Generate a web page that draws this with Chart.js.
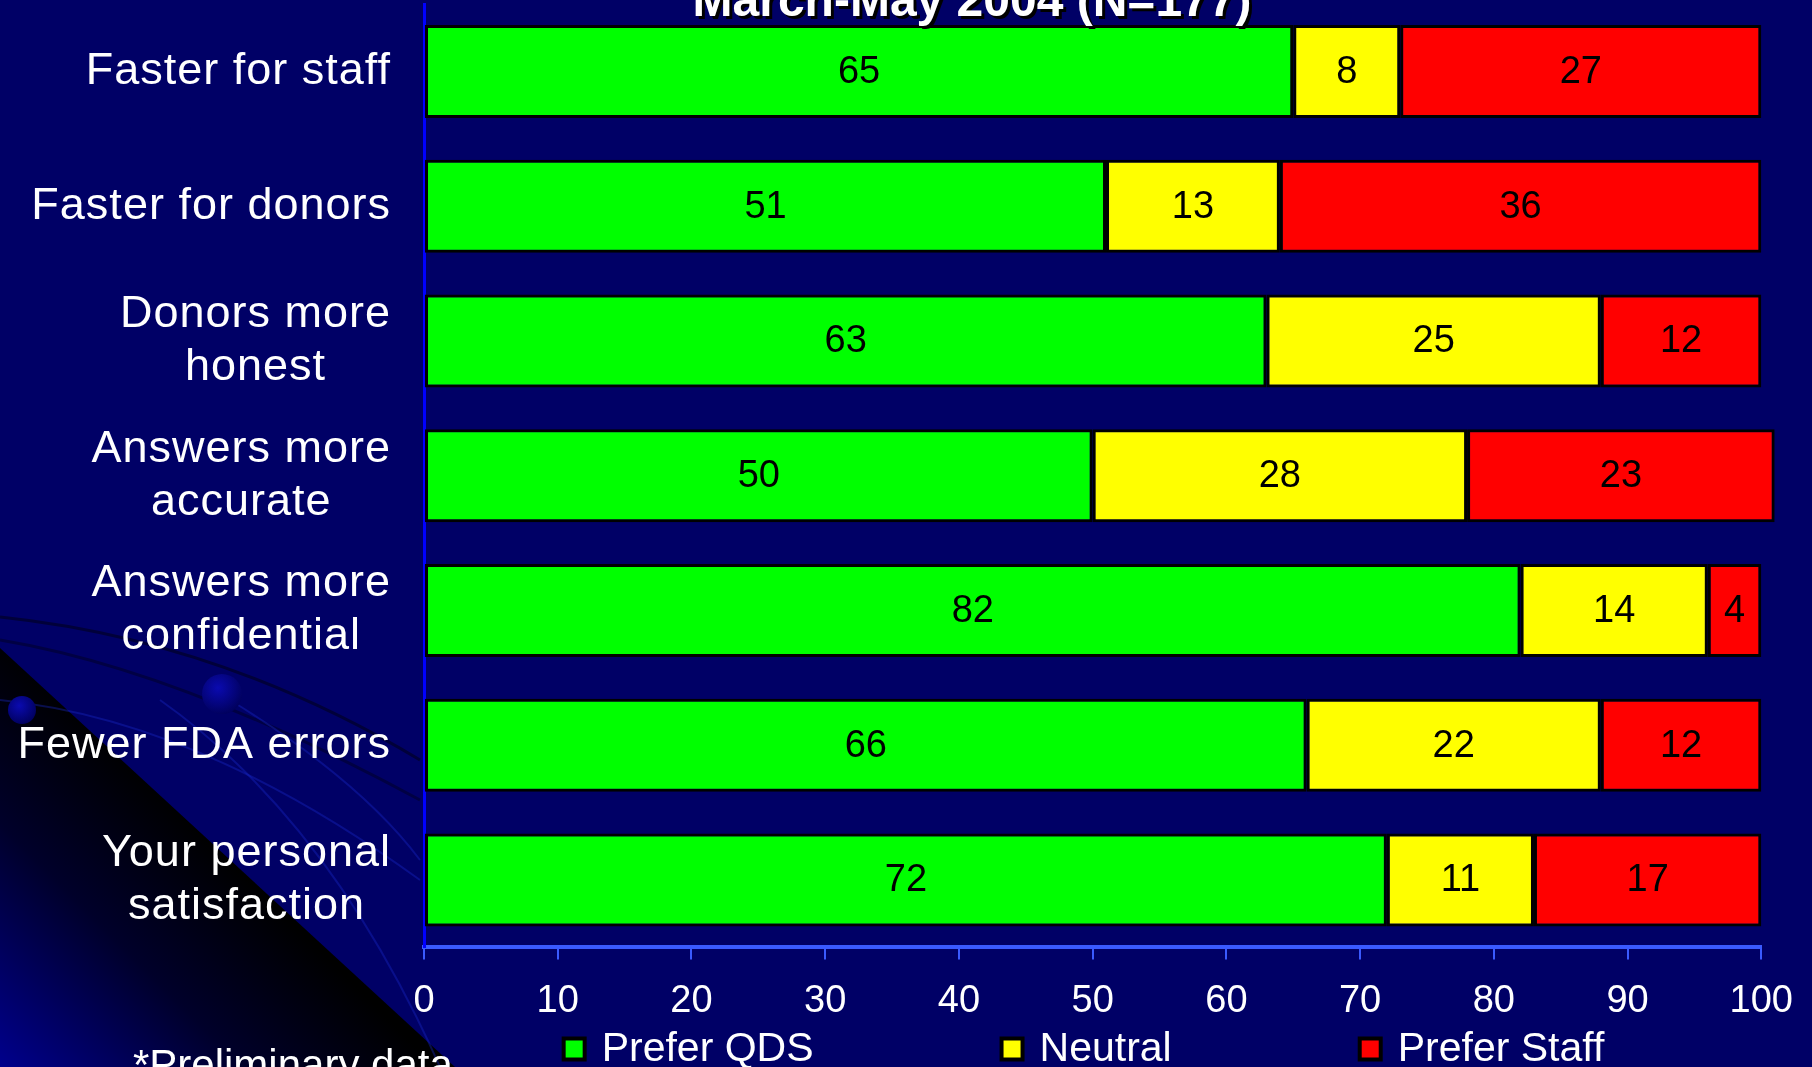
<!DOCTYPE html>
<html>
<head>
<meta charset="utf-8">
<title>QDS vs Staff preference</title>
<script src="https://cdn.jsdelivr.net/npm/chart.js@4.4.1/dist/chart.umd.min.js"></script>
<style>
    html, body { margin: 0; padding: 0; background: #000066; }
    #slide { position: relative; width: 1812px; height: 1067px; overflow: hidden; background: #000066; }
    #shade {
        position: absolute; left: 0; top: 648px; width: 455px; height: 419px;
        clip-path: polygon(0 0, 100% 100%, 0 100%);
        background: linear-gradient(45deg, #00008c 0%, #00002a 28%, #000000 50%);
    }
    #deco { position: absolute; left: 0; top: 0; }
    #chartWrap { position: absolute; left: 0; top: 0; width: 1812px; height: 1067px; }
</style>
</head>
<body>
<div id="slide">
    <div id="shade"></div>
    <svg id="deco" width="1812" height="1067">
        <defs>
            <radialGradient id="ball" cx="0.4" cy="0.35" r="0.7">
                <stop offset="0" stop-color="#0a0ab0"/>
                <stop offset="1" stop-color="#00005a"/>
            </radialGradient>
        </defs>
        <path d="M0 617 Q 220 640 420 760" stroke="#00003a" stroke-width="3" fill="none"/>
        <path d="M0 640 Q 180 670 420 800" stroke="#000044" stroke-width="3" fill="none"/>
        <path d="M0 700 Q 200 720 420 880" stroke="#1a2ad0" stroke-opacity="0.35" stroke-width="2" fill="none"/>
        <path d="M160 700 Q 330 820 440 1067" stroke="#1a2ad0" stroke-opacity="0.35" stroke-width="2" fill="none"/>
        <path d="M230 700 Q 360 780 420 860" stroke="#1a2ad0" stroke-opacity="0.35" stroke-width="2" fill="none"/>
        <circle cx="22" cy="710" r="14" fill="url(#ball)"/>
        <circle cx="222" cy="694" r="20" fill="url(#ball)"/>
    </svg>
    <div id="chartWrap"><canvas id="chart"></canvas></div>
</div>
<script>
const categories = [
    ['Faster for staff'],
    ['Faster for donors'],
    ['Donors more', 'honest'],
    ['Answers more', 'accurate'],
    ['Answers more', 'confidential'],
    ['Fewer FDA errors'],
    ['Your personal', 'satisfaction']
];
const preferQDS = [65, 51, 63, 50, 82, 66, 72];
const neutral = [8, 13, 25, 28, 14, 22, 11];
const preferStaff = [27, 36, 12, 23, 4, 12, 17];
const seriesNames = ['Prefer QDS', 'Neutral', 'Prefer Staff'];
const seriesColors = ['#00ff00', '#ffff00', '#ff0000'];
const xMin = 0;
const xMax = 100;
const xStep = 10;
const titleText = 'March-May 2004 (N=177)';
const footnote = '*Preliminary data';

const FONT = '"Liberation Sans", Arial, sans-serif';

// category labels: lines centred on each other, block right-aligned to the axis
const categoryLabels = {
    id: 'categoryLabels',
    afterDraw(chart) {
        const ctx = chart.ctx;
        const yScale = chart.scales.y;
        const right = chart.chartArea.left - 33;
        const lineH = 53;
        ctx.save();
        ctx.font = '45px ' + FONT;
        ctx.letterSpacing = '1px';
        ctx.fillStyle = '#ffffff';
        ctx.textAlign = 'center';
        ctx.textBaseline = 'middle';
        categories.forEach((lines, i) => {
            const y = yScale.getPixelForTick(i);
            const widest = Math.max(...lines.map(l => ctx.measureText(l).width));
            const cx = right - widest / 2;
            lines.forEach((line, j) => {
                ctx.fillText(line, cx, y + (j - (lines.length - 1) / 2) * lineH);
            });
        });
        ctx.restore();
    }
};

const valueLabels = {
    id: 'valueLabels',
    afterDatasetsDraw(chart) {
        const ctx = chart.ctx;
        ctx.save();
        ctx.font = '38px ' + FONT;
        ctx.fillStyle = '#000000';
        ctx.textAlign = 'center';
        ctx.textBaseline = 'middle';
        chart.data.datasets.forEach((ds, di) => {
            chart.getDatasetMeta(di).data.forEach((bar, i) => {
                ctx.fillText(String(ds.data[i]), (bar.x + bar.base) / 2, bar.y + 1);
            });
        });
        ctx.restore();
    }
};

const slideText = {
    id: 'slideText',
    afterDraw(chart) {
        const ctx = chart.ctx;
        ctx.save();
        // title, mostly cut off at the top
        ctx.font = 'bold 48px ' + FONT;
        ctx.textAlign = 'center';
        ctx.textBaseline = 'alphabetic';
        ctx.fillStyle = '#000000';
        ctx.fillText(titleText, 975, 19);
        ctx.fillStyle = '#ffffff';
        ctx.fillText(titleText, 972, 16);

        // legend
        ctx.font = '41px ' + FONT;
        ctx.textAlign = 'left';
        ctx.textBaseline = 'middle';
        const boxW = 25, boxH = 25, textGap = 15, itemGap = 186;
        const widths = seriesNames.map(n => boxW + textGap + ctx.measureText(n).width);
        const total = widths.reduce((a, b) => a + b, 0) + itemGap * (widths.length - 1);
        let x = 1083 - total / 2;
        const ly = 1049;
        seriesNames.forEach((name, i) => {
            ctx.fillStyle = '#000000';
            ctx.fillRect(x, ly - boxH / 2, boxW, boxH);
            ctx.fillStyle = seriesColors[i];
            ctx.fillRect(x + 4, ly - boxH / 2 + 4, boxW - 8, boxH - 8);
            ctx.fillStyle = '#ffffff';
            ctx.fillText(name, x + boxW + textGap, ly + 1);
            x += widths[i] + itemGap;
        });

        // footnote
        ctx.font = '42px ' + FONT;
        ctx.textBaseline = 'alphabetic';
        ctx.fillText(footnote, 133, 1079);
        ctx.restore();
    }
};

const datasets = [preferQDS, neutral, preferStaff].map((values, i) => ({
    label: seriesNames[i],
    data: values,
    backgroundColor: seriesColors[i],
    borderColor: '#000000',
    borderWidth: 3,
    borderSkipped: false,
    barPercentage: 0.69,
    categoryPercentage: 1.0,
    clip: false
}));

new Chart(document.getElementById('chart'), {
    type: 'bar',
    data: {
        labels: categories.map(c => c.join(' ')),
        datasets: datasets
    },
    options: {
        indexAxis: 'y',
        responsive: true,
        maintainAspectRatio: false,
        animation: false,
        layout: { padding: { left: 0, right: 45, top: 4, bottom: 24 } },
        plugins: {
            legend: { display: false },
            title: { display: false },
            tooltip: { enabled: false }
        },
        scales: {
            x: {
                stacked: true,
                min: xMin,
                max: xMax,
                ticks: {
                    stepSize: xStep,
                    color: '#ffffff',
                    font: { family: FONT, size: 38 },
                    padding: 19,
                    maxRotation: 0
                },
                grid: {
                    drawOnChartArea: false,
                    tickLength: 12,
                    color: '#3a5aff',
                    lineWidth: 2
                },
                border: { color: '#3a5aff', width: 4 }
            },
            y: {
                stacked: true,
                ticks: { display: false },
                grid: { drawOnChartArea: false, drawTicks: false },
                border: { color: '#0000ff', width: 3 },
                afterFit(scale) { scale.width = 424; }
            }
        }
    },
    plugins: [categoryLabels, valueLabels, slideText]
});
</script>
</body>
</html>
